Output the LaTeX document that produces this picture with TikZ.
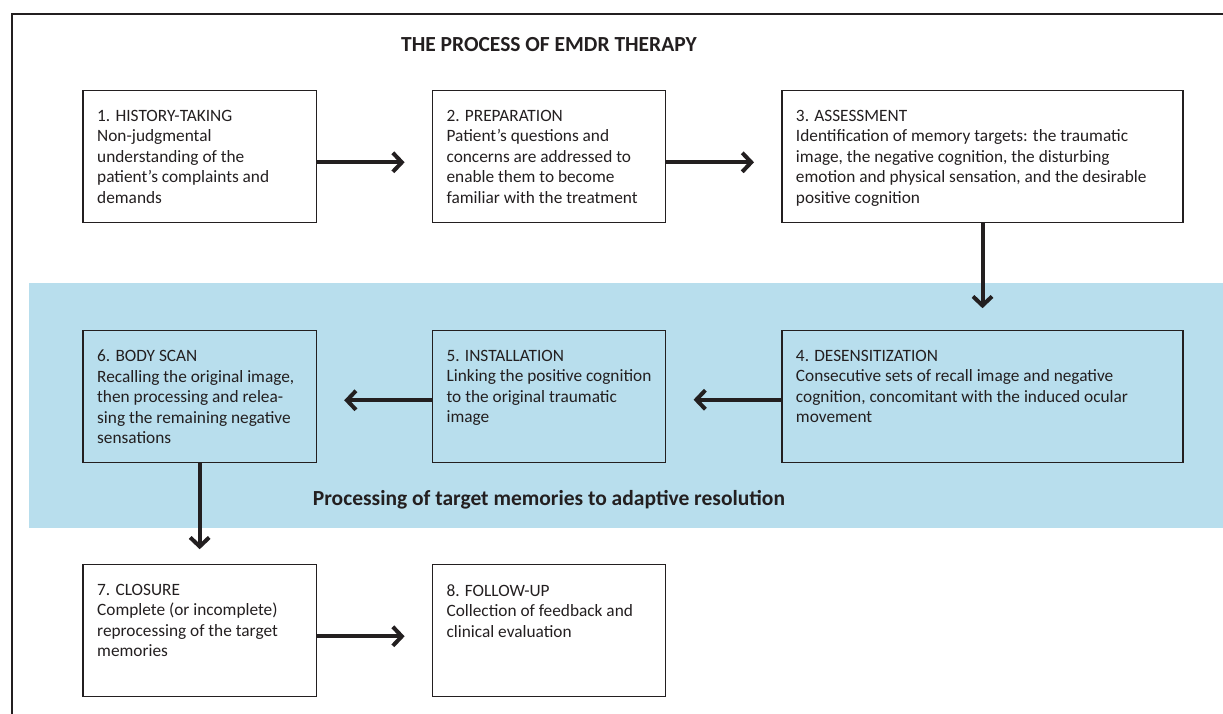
\documentclass[tikz,border=0pt]{standalone}
\usepackage{fontspec}
\setmainfont{Carlito}
\usepackage{tikz}
\usetikzlibrary{arrows.meta}
\definecolor{ink}{HTML}{231F20}
\definecolor{bandblue}{RGB}{184,222,237}

\begin{document}
\begin{tikzpicture}[
   x=1pt,y=-1pt,
   every matrix/.style={ampersand replacement=\&,column sep=115pt,row sep=106.6pt,inner sep=0pt},
   phase/.style={draw=ink,line width=1.4pt,text=ink,inner xsep=14pt,inner ysep=20pt,outer sep=0pt,font=\fontsize{17.3}{20.5}\selectfont},
   flow/.style={-{Straight Barb[length=9pt,width=19pt]},line width=4pt,draw=ink,shorten >=28pt},
   heading/.style={text=ink,font=\bfseries\fontsize{21.5}{24}\selectfont}]
\useasboundingbox (0,0) rectangle (1223,713);
\clip (0,0) rectangle (1223,713);
\draw[ink,line width=1.6pt] (12,720) |- (1230,14);
% band behind steps 4 to 6
\fill[bandblue] (29,283) rectangle (1230,528);
\node[heading] (title) at (549,45) {THE PROCESS OF EMDR THERAPY};
\matrix[matrix anchor=north west] at (82.3,89.3) {
\node[phase] (hist) {\parbox[t][92pt][t]{205pt}{1. HISTORY-TAKING\\Non-judgmental\\understanding of the\\patient's complaints and\\demands}};\&
\node[phase] (prep) {\parbox[t][92pt][t]{205pt}{2. PREPARATION\\Patient's questions and\\concerns are addressed to\\enable them to become\\familiar with the treatment}};\&
\node[phase] (assess) {\parbox[t][92pt][t]{373pt}{3. ASSESSMENT\\Identification of memory targets: the traumatic\\image, the negative cognition, the disturbing\\emotion and physical sensation, and the desirable\\positive cognition}};\\
\node[phase] (scan) {\parbox[t][92pt][t]{205pt}{6. BODY SCAN\\Recalling the original image,\\then processing and relea-\\sing the remaining negative\\sensations}};\&
\node[phase] (install) {\parbox[t][92pt][t]{205pt}{5. INSTALLATION\\Linking the positive cognition\\to the original traumatic\\image}};\&
\node[phase] (desens) {\parbox[t][92pt][t]{373pt}{4. DESENSITIZATION\\Consecutive sets of recall image and negative\\cognition, concomitant with the induced ocular\\movement}};\\[-6pt]
\node[phase] (closure) {\parbox[t][92pt][t]{205pt}{7. CLOSURE\\Complete (or incomplete)\\reprocessing of the target\\memories}};\&
\node[phase] (follow) {\parbox[t][92pt][t]{205pt}{8. FOLLOW-UP\\Collection of feedback and\\clinical evaluation}};\\
};
\node[heading] (resolution) at (549,500) {Processing of target memories to adaptive resolution};
\draw[flow] (hist.-3.5) -- (hist.-3.5 -| prep.west);
\draw[flow] (prep.-3.5) -- (prep.-3.5 -| assess.west);
\draw[flow,shorten >=22pt] (assess.south) -- (desens.north);
\draw[flow] (desens.181.6) -- (desens.181.6 -| install.east);
\draw[flow] (install.182.7) -- (install.182.7 -| scan.east);
\draw[flow,shorten >=15pt] (scan.south) -- (closure.north);
\draw[flow] (closure.-3) -- (closure.-3 -| follow.west);
\end{tikzpicture}
\end{document}
